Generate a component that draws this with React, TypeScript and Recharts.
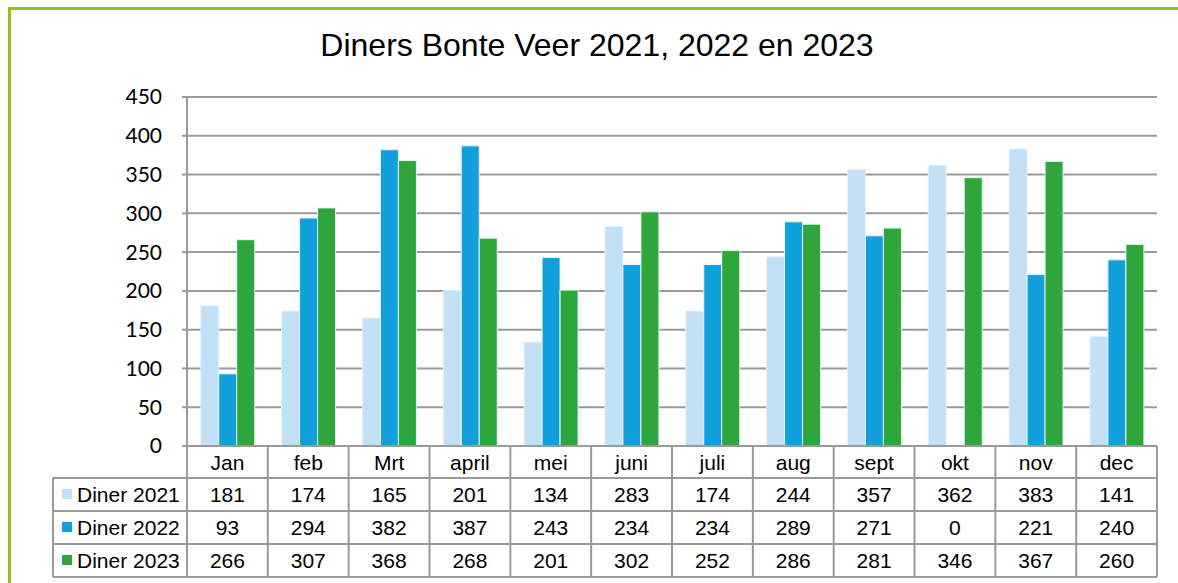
import { BarChart, Bar, XAxis, YAxis, CartesianGrid } from 'recharts'

const months = ['Jan', 'feb', 'Mrt', 'april', 'mei', 'juni', 'juli', 'aug', 'sept', 'okt', 'nov', 'dec']
const diner2021 = [181, 174, 165, 201, 134, 283, 174, 244, 357, 362, 383, 141]
const diner2022 = [93, 294, 382, 387, 243, 234, 234, 289, 271, 0, 221, 240]
const diner2023 = [266, 307, 368, 268, 201, 302, 252, 286, 281, 346, 367, 260]
const yTicks = [0, 50, 100, 150, 200, 250, 300, 350, 400, 450]

const series = [
  { key: 'd2021', name: 'Diner 2021', color: '#c2e0f6', values: diner2021 },
  { key: 'd2022', name: 'Diner 2022', color: '#12a0dc', values: diner2022 },
  { key: 'd2023', name: 'Diner 2023', color: '#2ea63c', values: diner2023 },
]

const data = months.map((m, i) => ({
  month: m,
  d2021: diner2021[i],
  d2022: diner2022[i],
  d2023: diner2023[i],
}))

const W = 1178
const H = 583
const plotLeft = 187
const plotRight = 1157
const plotTop = 97
const plotBottom = 446
const yAxisW = 80
const colW = (plotRight - plotLeft) / months.length
const tableLeft = 53
const headerBottom = 478
const rowH = 33
const lineColor = '#9a9a9a'
const font = "'Liberation Sans', Arial, sans-serif"

function DataTable() {
  const bottom = headerBottom + rowH * series.length
  return (
    <svg width={W} height={H} style={{ position: 'absolute', left: 0, top: 0, pointerEvents: 'none' }}>
      <line x1={plotLeft} y1={plotBottom} x2={plotRight} y2={plotBottom} stroke={lineColor} strokeWidth={2} />
      {[0, 1, 2, 3].map(r => (
        <line key={r} x1={tableLeft} y1={headerBottom + r * rowH} x2={plotRight} y2={headerBottom + r * rowH} stroke={lineColor} strokeWidth={2} />
      ))}
      <line x1={tableLeft} y1={headerBottom} x2={tableLeft} y2={bottom} stroke={lineColor} strokeWidth={2} />
      {months.map((_, i) => (
        <line key={i} x1={plotLeft + i * colW} y1={plotBottom} x2={plotLeft + i * colW} y2={bottom} stroke={lineColor} strokeWidth={2} />
      ))}
      <line x1={plotRight} y1={plotBottom} x2={plotRight} y2={bottom} stroke={lineColor} strokeWidth={2} />
      {months.map((m, i) => (
        <text key={m} x={plotLeft + (i + 0.5) * colW} y={plotBottom + 24} textAnchor="middle" fontSize={21} fontFamily={font} fill="#000">{m}</text>
      ))}
      {series.map((s, r) => (
        <g key={s.key}>
          <rect x={62} y={headerBottom + r * rowH + 11} width={10} height={10} fill={s.color} />
          <text x={77} y={headerBottom + r * rowH + 24} fontSize={21} fontFamily={font} fill="#000">{s.name}</text>
          {s.values.map((v, i) => (
            <text key={i} x={plotLeft + (i + 0.5) * colW} y={headerBottom + r * rowH + 24} textAnchor="middle" fontSize={21} fontFamily={font} fill="#000">{v}</text>
          ))}
        </g>
      ))}
    </svg>
  )
}

export default function App() {
  return (
    <div style={{ position: 'fixed', left: 0, top: 0, width: W, height: H, background: '#fff', overflow: 'hidden' }}>
      <div style={{ position: 'absolute', left: 8, top: 7, width: 3, height: H, background: '#95c11f' }} />
      <div style={{ position: 'absolute', left: 8, top: 7, width: W, height: 3, background: '#95c11f' }} />
      <div style={{ position: 'absolute', left: 0, width: W, top: 25, textAlign: 'center', fontFamily: font, fontSize: 32, lineHeight: '40px', color: '#000', paddingLeft: 16, boxSizing: 'border-box' }}>
        Diners Bonte Veer 2021, 2022 en 2023
      </div>
      <BarChart
        width={W}
        height={H}
        data={data}
        margin={{ top: plotTop, left: plotLeft - yAxisW, right: W - plotRight, bottom: H - plotBottom }}
        barCategoryGap="17%"
        barGap={0}
        style={{ position: 'absolute', left: 0, top: 0 }}
      >
        <CartesianGrid vertical={false} stroke={lineColor} strokeWidth={2} horizontalValues={yTicks} />
        <XAxis dataKey="month" hide />
        <YAxis
          width={yAxisW}
          domain={[0, 450]}
          ticks={yTicks}
          interval={0}
          axisLine={{ stroke: lineColor, strokeWidth: 2 }}
          tickLine={{ stroke: lineColor, strokeWidth: 2 }}
          tickSize={5}
          tickMargin={20}
          tick={{ fontSize: 21, fontFamily: "Lato, 'Open Sans', sans-serif", fill: '#000' }}
        />
        {series.map(s => (
          <Bar key={s.key} dataKey={s.key} name={s.name} fill={s.color} stroke="#e6f2fb" strokeWidth={1} isAnimationActive={false} />
        ))}
      </BarChart>
      <DataTable />
    </div>
  )
}
